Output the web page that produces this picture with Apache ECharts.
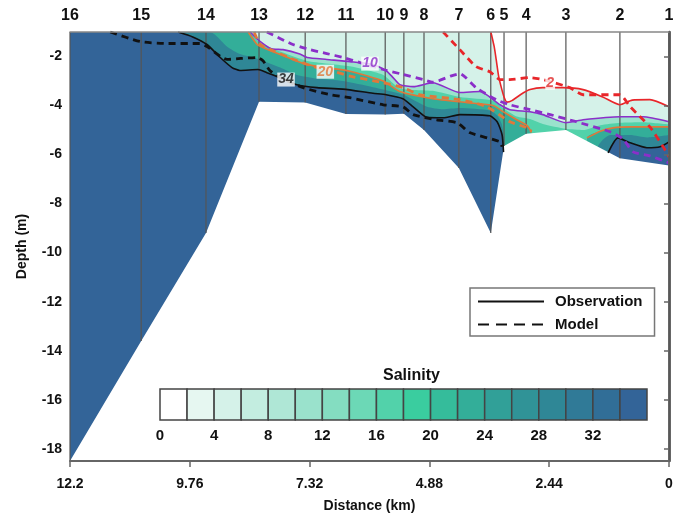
<!DOCTYPE html>
<html>
<head>
<meta charset="utf-8">
<script src="https://cdn.jsdelivr.net/npm/echarts@6.0.0/dist/echarts.min.js"></script>
<style>
html, body { margin: 0; padding: 0; background: #fff; }
#main { width: 686px; height: 515px; }
</style>
</head>
<body>
<div id="main"></div>
<script>
// stations along the transect (distance in km, seabed depth in m)
var stationNames = ["16", "15", "14", "13", "12", "11", "10", "9", "8", "7", "6", "5", "4", "3", "2", "1"];
var stationDist = [12.2, 10.75, 9.43, 8.35, 7.41, 6.58, 5.78, 5.40, 4.99, 4.28, 3.63, 3.36, 2.91, 2.10, 1.00, 0];
var seabedDepth = [-18.5, -13.6, -9.2, -3.85, -3.88, -4.35, -4.37, -4.33, -5.0, -6.55, -9.2, -5.65, -5.15, -5.0, -6.15, -6.45];
var surfaceDepth = -1;
var bottomDepth = -18.5;

var xTickValues = [12.2, 9.76, 7.32, 4.88, 2.44, 0];
var yTickValues = [-2, -4, -6, -8, -10, -12, -14, -16, -18];

// salinity colour scale, 2 psu per box
var salinityStarts = [0, 2, 4, 6, 8, 10, 12, 14, 16, 18, 20, 22, 24, 26, 28, 30, 32, 34];
var salinityColors = ["#ffffff", "#e6f7f1", "#d5f2e9", "#c3ede0", "#afe7d6", "#9ae2cc", "#84ddc1", "#6cd8b6",
    "#52d2aa", "#3acd9f", "#35bc9b", "#33ae99", "#31a098", "#309397", "#2f8796", "#307a97", "#316e97", "#336498"];
var salinityTicks = [0, 4, 8, 12, 16, 20, 24, 28, 32];

// observed isohalines [distance, depth]
var obs2 = [[3.63, -1.0], [3.56, -1.6], [3.52, -2.12], [3.47, -2.8], [3.42, -3.23], [3.36, -3.65], [3.30, -3.86],
    [3.20, -3.80], [3.02, -3.55], [2.83, -3.35], [2.57, -3.27], [2.16, -3.27], [1.75, -3.35], [1.35, -3.65],
    [1.00, -3.97], [0.75, -3.78], [0.39, -3.76], [0, -4.05]];
var obs10 = [[8.53, -1.0], [8.35, -1.35], [8.10, -1.68], [7.86, -1.72], [7.52, -1.90], [7.37, -2.04], [6.97, -2.12],
    [6.50, -2.21], [6.03, -2.33], [5.75, -2.60], [5.62, -2.86], [5.48, -3.15], [5.21, -3.23], [4.81, -3.07],
    [4.26, -3.47], [3.85, -3.43], [3.44, -3.97], [3.24, -4.17], [2.83, -4.25], [2.57, -4.37], [2.10, -4.70],
    [1.75, -4.58], [1.00, -4.46], [0.53, -4.46], [0, -4.66]];
var obs20 = [[8.57, -1.0], [8.39, -1.51], [8.27, -1.63], [7.86, -1.96], [7.37, -2.33], [6.50, -2.60], [5.82, -3.0],
    [5.48, -3.43], [4.81, -3.72], [4.11, -3.88], [3.58, -4.0], [3.38, -4.25], [3.10, -4.58], [2.89, -4.82], [2.80, -5.10]];
var obs20b = [[1.67, -5.32], [1.40, -5.05], [1.14, -4.91], [0.79, -4.87], [0, -4.87]];
var obs34 = [[10.0, -1.0], [9.7, -1.2], [9.41, -1.51], [9.14, -2.04], [8.90, -2.45], [8.74, -2.57], [8.37, -2.53],
    [8.19, -2.66], [7.92, -2.86], [7.58, -3.15], [7.17, -3.27], [6.64, -3.33], [6.03, -3.50], [5.76, -3.56],
    [5.42, -3.72], [5.21, -4.05], [4.93, -4.48], [4.60, -4.50], [4.26, -4.37], [3.65, -4.42], [3.50, -4.66],
    [3.40, -5.19], [3.37, -5.9]];
var obs34b = [[1.24, -5.93], [1.04, -5.32], [0.79, -5.52], [0.45, -5.72], [0.18, -5.68], [0, -5.48]];

// unlabelled shading levels estimated from the colour field
var est15 = [[8.55, -1.0], [8.33, -1.45], [7.86, -1.84], [7.37, -2.18], [6.50, -2.40], [5.82, -2.75], [5.48, -3.3],
    [4.81, -3.4], [4.26, -3.65], [3.58, -3.8], [3.38, -4.1], [3.10, -4.45], [2.83, -4.55], [2.57, -4.75],
    [2.10, -4.95], [1.75, -5.0], [1.40, -4.8], [1.00, -4.7], [0.53, -4.68], [0, -4.77]];
var est27 = [[9.35, -1.0], [9.0, -1.6], [8.74, -1.9], [8.37, -2.1], [7.92, -2.45], [7.58, -2.75], [7.17, -2.9],
    [6.64, -3.0], [6.03, -3.25], [5.42, -3.55], [4.93, -4.05], [4.60, -4.15], [4.26, -4.1], [3.65, -4.2],
    [3.50, -4.4], [3.40, -4.8], [3.36, -5.5]];
var est27b = [[1.45, -5.7], [1.2, -5.2], [0.79, -5.2], [0.45, -5.3], [0, -5.2]];

// model isohalines
var mod2 = [[4.60, -1.0], [4.26, -1.72], [3.93, -2.41], [3.65, -2.62], [3.44, -2.94], [3.24, -2.94], [2.83, -2.86],
    [2.57, -2.94], [2.02, -3.27], [1.75, -3.56], [1.00, -3.56], [0.79, -4.05], [0.39, -4.87], [0.12, -5.68], [0, -6.09]];
var mod10 = [[8.19, -1.0], [7.66, -1.51], [7.31, -1.72], [6.97, -1.88], [6.64, -2.04], [6.29, -2.25], [5.82, -2.53],
    [5.48, -2.70], [5.01, -2.94], [4.81, -3.05], [4.45, -2.80], [4.26, -2.70], [3.93, -3.27], [3.52, -3.76],
    [3.24, -3.97], [2.83, -4.17], [2.42, -4.37], [1.89, -4.66], [1.20, -5.07], [0.94, -5.36], [0.73, -5.89],
    [0.39, -6.05], [0, -6.34]];
var mod20 = [[8.45, -1.0], [8.33, -1.5], [8.07, -1.76], [7.58, -2.17], [7.17, -2.45], [6.84, -2.60], [6.50, -2.80],
    [5.82, -3.07], [5.42, -3.27], [5.07, -3.56], [4.26, -3.76], [3.71, -4.05], [3.24, -4.66], [2.89, -4.91], [2.80, -5.05]];
var mod34 = [[11.38, -1.0], [10.77, -1.39], [10.22, -1.47], [9.55, -1.47], [9.41, -1.59], [9.0, -2.12], [8.72, -2.08],
    [8.39, -2.04], [8.27, -2.17], [8.13, -2.57], [7.92, -2.86], [7.45, -3.27], [6.90, -3.56], [6.50, -3.68],
    [5.82, -3.97], [5.42, -4.05], [5.21, -4.37], [4.73, -4.58], [4.32, -4.70], [4.05, -5.11], [3.44, -5.48], [3.40, -5.68]];

// contour labels [distance, depth, text]
var contourLabels = [[7.80, -2.94, "34"], [7.00, -2.62, "20"], [6.09, -2.29, "10"], [2.42, -3.07, "2"]];
var labelColors = ["#111", "#e0783a", "#8b2fc9", "#e02828"];

(function() {
    var font = "'Liberation Sans', Arial, sans-serif";
    let myChart = echarts.init(document.getElementById("main"));

    // filled salinity bands: region deeper than each isohaline, extended to surface / below seabed
    var top = [[12.2, surfaceDepth]];
    var fill2 = top.concat(obs2);
    var fill10 = top.concat(obs10);
    var fill15 = top.concat(est15);
    var fill20 = top.concat(obs20, [[2.79, bottomDepth], [1.68, bottomDepth]], obs20b);
    var fill27 = top.concat(est27, [[3.35, bottomDepth], [1.46, bottomDepth]], est27b);
    var fill34 = top.concat(obs34, [[3.36, bottomDepth], [1.25, bottomDepth]], obs34b);
    var seabed = stationDist.map(function(d, i) { return [d, seabedDepth[i]]; });

    function band(pts, color) {
        return {
            type: "line", data: pts, symbol: "none", smooth: 0.2, silent: true, z: 2,
            lineStyle: { width: 0 },
            areaStyle: { color: color, opacity: 1, origin: "start" }
        };
    }

    function contour(pts, color, dashed) {
        return {
            type: "line", data: pts, symbol: "none", smooth: 0.2, silent: true, z: 7,
            lineStyle: {
                color: color,
                width: dashed ? 2.8 : 1.6,
                type: dashed ? [7, 5] : "solid"
            }
        };
    }

    let option = {
        animation: false,
        textStyle: { fontFamily: font },
        title: {
            text: "Salinity",
            left: 378,
            top: 363,
            textStyle: { fontSize: 16, fontWeight: "bold", color: "#111", fontFamily: font }
        },
        legend: {
            data: ["Observation", "Model"],
            orient: "vertical",
            left: 470,
            top: 288,
            padding: [6, 12, 4, 7],
            itemWidth: 66,
            itemHeight: 14,
            itemGap: 8,
            selectedMode: false,
            borderColor: "#777",
            borderWidth: 1.5,
            itemStyle: { opacity: 0 },
            textStyle: { fontSize: 15, fontWeight: "bold", color: "#111", fontFamily: font, padding: [0, 0, 0, 6] }
        },
        grid: [
            { left: 70, right: 17, top: 32, bottom: 54, outerBoundsMode: "none" },
            { left: 160, top: 389, width: 487, height: 31, outerBoundsMode: "none" }
        ],
        xAxis: [{
            type: "value", gridIndex: 0, position: "bottom", min: 0, max: 12.2, inverse: true, z: 10,
            name: "Distance (km)", nameLocation: "middle", nameGap: 38,
            nameTextStyle: { fontSize: 14, fontWeight: "bold", color: "#111" },
            axisLine: { lineStyle: { color: "#666", width: 2 } },
            axisTick: { customValues: xTickValues, length: 6, lineStyle: { color: "#666", width: 1.5 } },
            axisLabel: { customValues: xTickValues, fontSize: 14, fontWeight: "bold", color: "#111", margin: 16 },
            splitLine: { show: false }
        }, {
            type: "value", gridIndex: 0, position: "top", min: 0, max: 12.2, inverse: true, z: 10,
            axisLine: { lineStyle: { color: "#888", width: 1.5 } },
            axisTick: { show: false },
            axisLabel: {
                customValues: stationDist, fontSize: 16, fontWeight: "bold", color: "#111", margin: 8,
                formatter: function(v) { return stationNames[stationDist.indexOf(v)]; }
            },
            splitLine: { show: false }
        }, {
            type: "value", gridIndex: 1, min: 0, max: 36, z: 10,
            axisLine: { show: false },
            axisTick: { show: false },
            axisLabel: { customValues: salinityTicks, fontSize: 15, fontWeight: "bold", color: "#111", margin: 8 },
            splitLine: { show: false }
        }],
        yAxis: [{
            type: "value", gridIndex: 0, position: "left", min: bottomDepth, max: surfaceDepth, z: 10,
            name: "Depth (m)", nameLocation: "middle", nameGap: 41, nameRotate: 90,
            nameTextStyle: { fontSize: 14, fontWeight: "bold", color: "#111" },
            axisLine: { show: true, lineStyle: { color: "#333", width: 2.5 } },
            axisTick: { show: true, customValues: yTickValues, length: 5, lineStyle: { color: "#666", width: 1.5 } },
            axisLabel: { customValues: yTickValues, fontSize: 14, fontWeight: "bold", color: "#111", margin: 8 },
            splitLine: { show: false }
        }, {
            type: "value", gridIndex: 0, position: "right", min: bottomDepth, max: surfaceDepth, z: 10,
            axisLine: { show: true, lineStyle: { color: "#666", width: 1.5 } },
            axisTick: { show: false },
            axisLabel: { show: false },
            splitLine: { show: false }
        }, {
            type: "value", gridIndex: 1, min: 0, max: 1, show: false
        }],
        series: [
            band(fill2, salinityColors[2]),
            band(fill10, salinityColors[5]),
            band(fill15, salinityColors[8]),
            band(fill20, salinityColors[11]),
            band(fill27, salinityColors[14]),
            band(fill34, salinityColors[17]),
            {
                type: "line", data: seabed, symbol: "none", silent: true, z: 3,
                lineStyle: { width: 0 },
                areaStyle: { color: "#fff", opacity: 1, origin: "start" }
            },
            {
                // station casts
                type: "custom", silent: true, z: 4,
                data: seabed,
                renderItem: function(params, api) {
                    var p1 = api.coord([api.value(0), surfaceDepth]);
                    var p2 = api.coord([api.value(0), api.value(1)]);
                    return {
                        type: "line",
                        shape: { x1: p1[0], y1: p1[1], x2: p2[0], y2: p2[1] },
                        style: { stroke: "#555", lineWidth: 1.2 }
                    };
                }
            },
            contour(obs2, "#e8262a", false),
            contour(obs10, "#8b2fc9", false),
            contour(obs20, "#e0783a", false),
            contour(obs20b, "#e0783a", false),
            contour(obs34, "#111", false),
            contour(obs34b, "#111", false),
            contour(mod2, "#e8262a", true),
            contour(mod10, "#8b2fc9", true),
            contour(mod20, "#e0783a", true),
            contour(mod34, "#111", true),
            {
                type: "scatter", silent: true, z: 8, symbolSize: 1,
                data: contourLabels.map(function(d, i) {
                    return { value: [d[0], d[1], d[2]], label: { color: labelColors[i] } };
                }),
                label: {
                    show: true, position: "inside",
                    formatter: function(p) { return p.value[2]; },
                    fontSize: 14, fontWeight: "bold", fontStyle: "italic",
                    backgroundColor: "#fff", padding: [0, 1]
                },
                itemStyle: { color: "rgba(0,0,0,0)" }
            },
            {
                name: "Observation", type: "line", data: [], symbol: "none",
                lineStyle: { color: "#111", width: 2, type: "solid" }, itemStyle: { color: "#111" }
            },
            {
                name: "Model", type: "line", data: [], symbol: "none",
                lineStyle: { color: "#111", width: 2, type: [11, 7] }, itemStyle: { color: "#111" }
            },
            {
                // colour bar
                type: "custom", xAxisIndex: 2, yAxisIndex: 2, silent: true, z: 9,
                data: salinityStarts.map(function(s) { return [s, 0]; }),
                renderItem: function(params, api) {
                    var p0 = api.coord([api.value(0), 0]);
                    var p1 = api.coord([api.value(0) + 2, 1]);
                    return {
                        type: "rect",
                        shape: { x: p0[0], y: p1[1], width: p1[0] - p0[0], height: p0[1] - p1[1] },
                        style: { fill: salinityColors[params.dataIndex], stroke: "#444", lineWidth: 1.5 }
                    };
                }
            }
        ]
    };
    myChart.setOption(option);
    window.addEventListener("resize", function() {
        myChart.resize();
    });
})();
</script>
</body>
</html>
